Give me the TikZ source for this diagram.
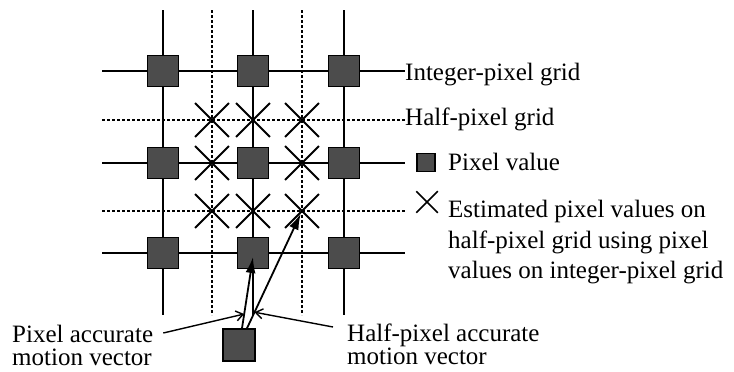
\documentclass[tikz,border=0pt]{standalone}
\usepackage{fontspec}
\setmainfont{Liberation Serif}
\usetikzlibrary{shapes.misc,arrows.meta,calc}
\begin{document}
\begin{tikzpicture}[x=1pt,y=-1pt,
  intline/.style={line width=1.8pt},
  halfline/.style={line width=1.4pt, dash pattern=on 3pt off 2pt},
  pix/.style={draw=black, line width=1.5pt, fill=black!70, minimum size=31pt, inner sep=0pt},
  est/.style={draw=black, cross out, line width=1.8pt, minimum size=32pt, inner sep=0pt},
  vec/.style={line width=1.8pt, -{Latex[length=16pt,width=10pt]}},
  ptr/.style={line width=1.4pt, -{Straight Barb[length=7pt,width=10pt]}},
  lbl/.style={font=\fontsize{25}{30}\selectfont, inner sep=0pt},
]
\useasboundingbox (0,0) rectangle (734,372);

% integer-pixel grid (solid) and half-pixel grid (dashed)
\foreach \x in {163,253,344} \draw[intline] (\x,10) -- (\x,315);
\foreach \x in {212,302} \draw[halfline] (\x,10) -- (\x,315);
\foreach \y in {71,163,253} \draw[intline] (102,\y) -- (405,\y);
\foreach \y in {120,211} \draw[halfline] (102,\y) -- (405,\y);

% pixel values on the integer grid
\foreach \x/\i in {163/1,253/2,344/3}
  \foreach \y/\j in {71/1,163/2,253/3}
    \node[pix] (p-\i-\j) at (\x,\y) {};

% estimated values on the half-pixel grid
\foreach \x/\y/\n in {212/120/1-1,253/120/2-1,302/120/3-1,
                      212/163/1-2,302/163/3-2,
                      212/211/1-3,253/211/2-3,302/211/3-3}
  \node[est] (e-\n) at (\x,\y) {};

% current block
\node[pix, minimum size=32pt] (m) at (239,345) {};

% motion vectors
\coordinate (v1s) at ([xshift=3pt]m.north);
\coordinate (v1e) at ([yshift=-4pt]p-2-3.center);
\coordinate (v2s) at ([xshift=8pt]m.north);
\coordinate (v2e) at ($(e-3-3)!3pt!(v2s)$);
\draw[vec] (v1s) -- (v1e);
\draw[vec] (v2s) -- (v2e);

% legend
\node[lbl, anchor=base west] (tInt) at (405,80) {Integer-pixel grid};
\node[lbl, anchor=base west] (tHalf) at (405,125) {Half-pixel grid};
\node[pix, minimum size=18pt, line width=1.2pt] (kPix) at (426,162.5) {};
\node[lbl, anchor=base west] (tPix) at (448,170) {Pixel value};
\node[est, minimum size=20pt, line width=1.5pt] (kEst) at (427,202) {};
\node[lbl, anchor=north west, align=left, font=\fontsize{25}{30.5}\selectfont] (tEst) at (448,200)
  {Estimated pixel values on\\half-pixel grid using pixel\\values on integer-pixel grid};

% vector labels
\node[lbl, anchor=north west, align=left, font=\fontsize{25}{23}\selectfont] (lblL) at (12,325)
  {Pixel accurate\\motion vector};
\node[lbl, anchor=north west, align=left, font=\fontsize{25}{23}\selectfont] (lblR) at (347,324)
  {Half-pixel accurate\\motion vector};

\coordinate (pa) at ($(v1s)!0.2!(v1e)$);
\coordinate (ha) at ($(v2s)!0.14!(v2e)$);
\draw[ptr] ($(lblL.north east)+(10,8)$) -- (pa);
\draw[ptr] ($(lblR.north west)+(-14,3)$) -- (ha);
\end{tikzpicture}
\end{document}
